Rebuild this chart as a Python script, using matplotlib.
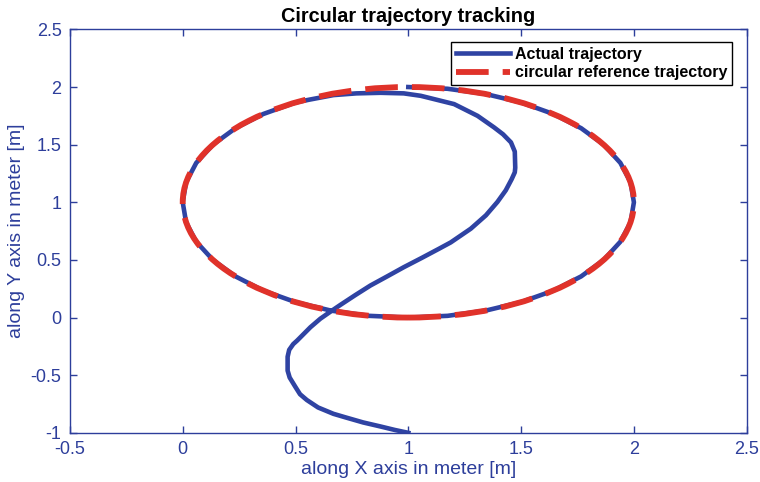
import matplotlib.pyplot as plt
from matplotlib.patches import Circle
from matplotlib.lines import Line2D

plt.rcParams['font.family'] = ['Liberation Sans', 'DejaVu Sans']

# reference circle (centre, radius)
ref_center = (1.0, 1.0)
ref_radius = 1.0

# actual trajectory
act_x = [1.0, 0.94, 0.877, 0.80, 0.72, 0.668, 0.60, 0.55, 0.52, 0.499, 0.474, 0.465, 0.465,
         0.472, 0.49, 0.507, 0.566, 0.61, 0.662, 0.699, 0.765, 0.832, 0.906, 0.98, 1.06,
         1.136, 1.188, 1.277, 1.344, 1.395, 1.432, 1.458, 1.472, 1.474, 1.472, 1.455,
         1.42, 1.38, 1.307, 1.203, 1.055, 0.98, 0.877, 0.77, 0.668, 0.56, 0.50,
         0.357, 0.234, 0.134, 0.060, 0.015, 0.000, 0.015, 0.060, 0.134, 0.234,
         0.357, 0.500, 0.658, 0.826, 1.000, 1.174, 1.342, 1.500, 1.643, 1.766, 1.866,
         1.940, 1.985, 2.000, 1.985, 1.940, 1.866, 1.766, 1.643, 1.500, 1.342, 1.174, 1.000]
act_y = [-1.0, -0.975, -0.945, -0.91, -0.865, -0.835, -0.78, -0.715, -0.665, -0.60, -0.52, -0.46, -0.34,
         -0.28, -0.23, -0.20, -0.084, -0.01, 0.061, 0.11, 0.195, 0.278, 0.357, 0.437, 0.518,
         0.597, 0.652, 0.771, 0.887, 1.003, 1.104, 1.20, 1.26, 1.30, 1.44, 1.52,
         1.59, 1.65, 1.75, 1.852, 1.924, 1.945, 1.95, 1.945, 1.93, 1.89, 1.866,
         1.766, 1.643, 1.500, 1.342, 1.174, 1.000, 0.826, 0.658, 0.500, 0.357,
         0.234, 0.134, 0.060, 0.015, 0.000, 0.015, 0.060, 0.134, 0.234, 0.357, 0.500,
         0.658, 0.826, 1.000, 1.174, 1.342, 1.500, 1.643, 1.766, 1.866, 1.940, 1.985, 2.000]

xticks = [-0.5, 0, 0.5, 1, 1.5, 2, 2.5]
yticks = [-1, -0.5, 0, 0.5, 1, 1.5, 2, 2.5]
xticklabels = ['-0.5', '0', '0.5', '1', '1.5', '2', '2.5']
yticklabels = ['-1', '-0.5', '0', '0.5', '1', '1.5', '2', '2.5']

blue = '#2F43A3'
red = '#E0322A'
axcol = '#2D3E9B'
dash = (0, (5.6, 2.4))

fig = plt.figure(figsize=(7.6, 4.82), dpi=100)
ax = fig.add_axes([0.092, 0.102, 0.8905, 0.837])

ax.plot(act_x, act_y, color=blue, lw=3.3, zorder=2)
circ = Circle(ref_center, ref_radius, fill=False, edgecolor=red, lw=4.2,
              linestyle=dash, zorder=3)
ax.add_patch(circ)

ax.set_xlim(-0.5, 2.5)
ax.set_ylim(-1, 2.5)
ax.set_xticks(xticks)
ax.set_yticks(yticks)
ax.set_xticklabels(xticklabels)
ax.set_yticklabels(yticklabels)
ax.tick_params(direction='in', length=5, width=1, colors=axcol, labelsize=13,
               top=True, right=True, pad=6)
for s in ax.spines.values():
    s.set_color(axcol)
    s.set_linewidth(1)

ax.set_title('Circular trajectory tracking', fontsize=14.3, fontweight='bold',
             color='black', pad=5)
ax.set_xlabel('along X axis in meter [m]', fontsize=14, color=axcol, labelpad=2)
ax.set_ylabel('along Y axis in meter [m]', fontsize=14, color=axcol, labelpad=4)

handles = [Line2D([], [], color=blue, lw=3.3),
           Line2D([], [], color=red, lw=4.2, linestyle=dash)]
leg = ax.legend(handles, ['Actual trajectory', 'circular reference trajectory'],
                loc='upper right', bbox_to_anchor=(0.978, 0.9685),
                prop={'weight': 'bold', 'size': 11.5}, frameon=True, fancybox=False,
                edgecolor='black', handlelength=3.4, borderpad=0.3, labelspacing=0.2,
                handletextpad=0.3, borderaxespad=0, framealpha=1)
leg.get_frame().set_linewidth(1)

fig.savefig('out.png', dpi=100)
